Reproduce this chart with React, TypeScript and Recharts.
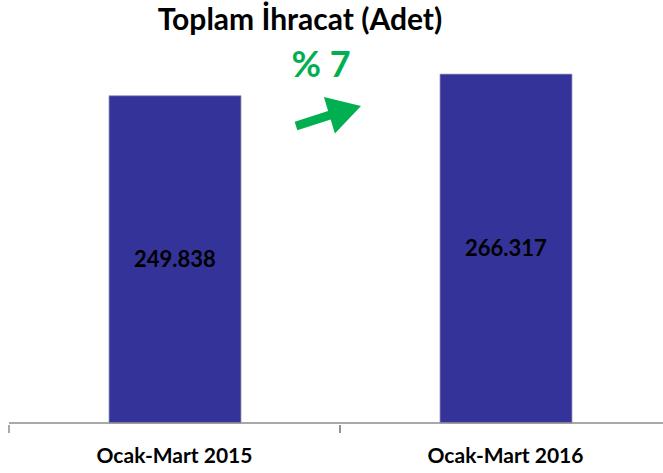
import React from 'react';
import { BarChart, Bar, XAxis, YAxis, LabelList } from 'recharts';

const categories = ['Ocak-Mart 2015', 'Ocak-Mart 2016'];
const exports = [249838, 266317];
const changeLabel = '% 7';
const title = 'Toplam İhracat (Adet)';

const data = categories.map((name, i) => ({ name, value: exports[i] }));

const FONT = 'Lato, "Open Sans", sans-serif';
const CHART_W = 680;
const MARGIN_X = 9;
const HALF_BAND = (CHART_W - 2 * MARGIN_X) / categories.length / 2;

// Turkish thousands separator
const fmt = (v: any) => String(v).replace(/\B(?=(\d{3})+(?!\d))/g, '.');

const CategoryTick = (props: any) => {
  const { x, y, payload } = props;
  return (
    <g>
      <line x1={x - HALF_BAND} x2={x - HALF_BAND} y1={y - 8} y2={y} stroke="#8c8c8c" strokeWidth={1.5} />
      <line x1={x + HALF_BAND} x2={x + HALF_BAND} y1={y - 8} y2={y} stroke="#8c8c8c" strokeWidth={1.5} />
      <text x={x} y={y + 30} textAnchor="middle" fill="#000" fontFamily={FONT} fontWeight={700} fontSize={21}>
        {payload.value}
      </text>
    </g>
  );
};

export default function App() {
  return (
    <div style={{ position: 'absolute', left: 0, top: 0, width: 663, height: 473, overflow: 'hidden', background: '#fff' }}>
      <BarChart width={CHART_W} height={473} data={data} margin={{ top: 30, right: MARGIN_X, bottom: 0, left: MARGIN_X }}>
        <YAxis hide domain={[0, 300000]} />
        <XAxis
          dataKey="name"
          axisLine={{ stroke: '#8c8c8c', strokeWidth: 1.5 }}
          tickLine={false}
          tickSize={8}
          height={50}
          tick={<CategoryTick />}
        />
        <Bar dataKey="value" fill="#333399" stroke="#9a9ab8" strokeWidth={0.8} barSize={132} isAnimationActive={false}>
          <LabelList
            dataKey="value"
            position="center"
            formatter={fmt}
            fill="#000"
            fontFamily={FONT}
            fontWeight={700}
            fontSize={22}
          />
        </Bar>
      </BarChart>
      <svg width={663} height={473} style={{ position: 'absolute', left: 0, top: 0, pointerEvents: 'none' }}>
        <text x={300} y={30} textAnchor="middle" fill="#000" fontFamily={FONT} fontWeight={700} fontSize={30}>
          {title}
        </text>
        <text x={321} y={77} textAnchor="middle" fill="#00b050" fontFamily={FONT} fontWeight={700} fontSize={36}>
          {changeLabel}
        </text>
        <polygon
          points="294.7,121.7 328.1,110.9 323.9,97 361,106 334.9,133.4 330.7,119.5 297.3,130.3"
          fill="#00b050"
        />
      </svg>
    </div>
  );
}
